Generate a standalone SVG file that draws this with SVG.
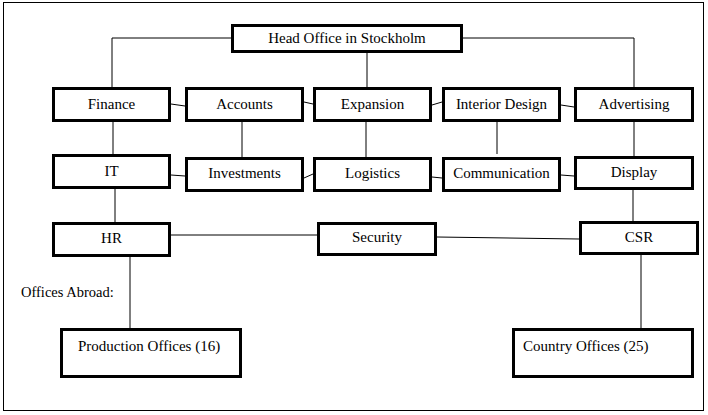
<svg xmlns="http://www.w3.org/2000/svg" width="708" height="415" viewBox="0 0 708 415">
<style>
.box{fill:#fff;stroke:#000;stroke-width:3}
.ln{stroke:#000;stroke-width:1;fill:none}
.t{font-family:'Liberation Serif','Times New Roman','DejaVu Serif',serif;font-size:15px;fill:#000}
.c{text-anchor:middle}
</style>
<rect x="0" y="0" width="708" height="415" fill="#fff"/>
<rect x="3.5" y="2.5" width="700" height="408" fill="none" stroke="#000" stroke-width="1"/>
<g id="connectors" class="ln">
<polyline points="231,38 112,38 112,87"/>
<polyline points="463,38 634,38 634,87"/>
<line x1="367" y1="53" x2="367" y2="87"/>
<line x1="171" y1="104" x2="185" y2="106"/>
<line x1="304" y1="102" x2="313" y2="104"/>
<line x1="432" y1="105" x2="442" y2="102"/>
<line x1="561" y1="105" x2="574" y2="107"/>
<line x1="113" y1="122" x2="113" y2="154"/>
<line x1="242" y1="122" x2="242" y2="157"/>
<line x1="366" y1="122" x2="366" y2="157"/>
<line x1="497" y1="122" x2="497" y2="154"/>
<line x1="634" y1="122" x2="634" y2="156"/>
<line x1="171" y1="175" x2="185" y2="176"/>
<line x1="304" y1="178" x2="313" y2="174"/>
<line x1="432" y1="177" x2="442" y2="178"/>
<line x1="561" y1="175" x2="574" y2="176"/>
<line x1="115" y1="189" x2="115" y2="222"/>
<line x1="633" y1="190" x2="633" y2="221"/>
<line x1="171" y1="235" x2="317" y2="235"/>
<line x1="437" y1="237" x2="579" y2="239"/>
<line x1="130" y1="257" x2="130" y2="328"/>
<line x1="641" y1="255" x2="641" y2="328"/>
<line x1="87" y1="88" x2="101" y2="90"/>
</g>
<g id="head"><rect class="box" x="232.5" y="25.5" width="229" height="26"/><text class="t c" x="347" y="43" font-family="Liberation Serif, serif">Head Office in Stockholm</text></g>
<g id="finance"><rect class="box" x="53.5" y="88.5" width="116" height="32"/><text class="t c" x="111.5" y="109">Finance</text></g>
<g id="accounts"><rect class="box" x="186.5" y="88.5" width="116" height="32"/><text class="t c" x="244.5" y="109">Accounts</text></g>
<g id="expansion"><rect class="box" x="314.5" y="88.5" width="116" height="32"/><text class="t c" x="372.5" y="109">Expansion</text></g>
<g id="interior"><rect class="box" x="443.5" y="88.5" width="116" height="32"/><text class="t c" x="501.5" y="109">Interior Design</text></g>
<g id="advertising"><rect class="box" x="575.5" y="88.5" width="117" height="32"/><text class="t c" x="634" y="109">Advertising</text></g>
<g id="it"><rect class="box" x="53.5" y="155.5" width="116" height="32"/><text class="t c" x="111.5" y="176">IT</text></g>
<g id="investments"><rect class="box" x="186.5" y="158.5" width="116" height="32"/><text class="t c" x="244.5" y="178">Investments</text></g>
<g id="logistics"><rect class="box" x="314.5" y="158.5" width="116" height="32"/><text class="t c" x="372.5" y="178">Logistics</text></g>
<g id="communication"><rect class="box" x="443.5" y="158.5" width="116" height="32"/><text class="t c" x="501.5" y="178">Communication</text></g>
<g id="display"><rect class="box" x="575.5" y="157.5" width="117" height="31"/><text class="t c" x="634" y="177">Display</text></g>
<g id="hr"><rect class="box" x="53.5" y="223.5" width="116" height="32"/><text class="t c" x="111.5" y="243">HR</text></g>
<g id="security"><rect class="box" x="318.5" y="223.5" width="117" height="31"/><text class="t c" x="377" y="242">Security</text></g>
<g id="csr"><rect class="box" x="580.5" y="222.5" width="117" height="31"/><text class="t c" x="639" y="242">CSR</text></g>
<text class="t" x="21" y="297" style="font-size:14.5px">Offices Abroad:</text>
<g id="production"><rect class="box" x="61.5" y="329.5" width="179" height="47"/><text class="t" x="78" y="351">Production Offices (16)</text></g>
<g id="country"><rect class="box" x="513.5" y="329.5" width="179" height="47"/><text class="t" x="523" y="351">Country Offices (25)</text></g>
</svg>
